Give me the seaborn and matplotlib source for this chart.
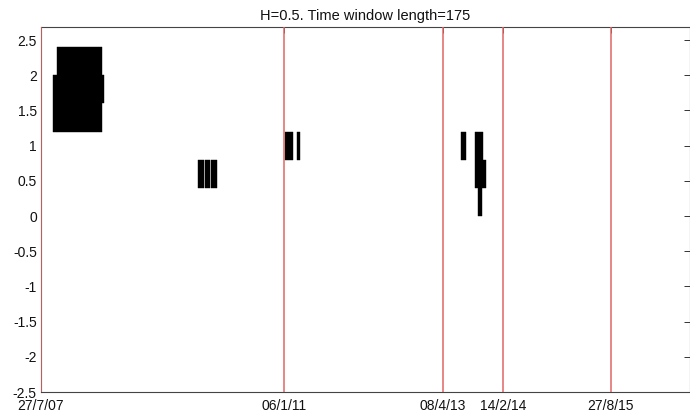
import pandas as pd
import numpy as np
import matplotlib
matplotlib.use("Agg")
import matplotlib.pyplot as plt
import seaborn as sns

# 数据: 时间以 27/7/07 起算的天数
start_date = "2007-07-27"
event_dates = ["2007-07-27", "2011-01-06", "2013-04-08", "2014-02-14", "2015-08-27"]
event_labels = ["27/7/07", "06/1/11", "08/4/13", "14/2/14", "27/8/15"]

# 黑色竖条: 起点(天), 终点(天), 下沿, 上沿
seg_start = [81, 64, 314, 815, 850, 881, 1264, 1328, 2176, 2249, 2292, 2266]
seg_end = [314, 81, 328, 844, 876, 910, 1307, 1342, 2202, 2292, 2305, 2283]
seg_low = [1.2, 1.2, 1.6, 0.4, 0.4, 0.4, 0.8, 0.8, 0.8, 0.4, 0.4, 0.0]
seg_high = [2.4, 2.0, 2.0, 0.8, 0.8, 0.8, 1.2, 1.2, 1.2, 1.2, 0.8, 0.4]

y_ticks = [-2.5, -2, -1.5, -1, -0.5, 0, 0.5, 1, 1.5, 2, 2.5]
y_tick_labels = ["-2.5", "-2", "-1.5", "-1", "-0.5", "0", "0.5", "1", "1.5", "2", "2.5"]

sns.set_style("white")
plt.rcParams['font.family'] = ['Liberation Sans', 'DejaVu Sans']
plt.rcParams['axes.unicode_minus'] = False

event_pos = [(pd.to_datetime(d) - pd.to_datetime(start_date)).days for d in event_dates]

fig = plt.figure(figsize=(6.9, 4.19), dpi=100)
ax = fig.add_axes([41 / 690, 1 - 392 / 419, 648.5 / 690, 365 / 419])

starts = np.array(seg_start)
widths = np.array(seg_end) - starts
lows = np.array(seg_low)
heights = np.array(seg_high) - lows
ax.bar(starts, heights, width=widths, bottom=lows, align='edge',
       color='black', edgecolor='black', linewidth=0.3, zorder=2)

for p in event_pos:
    ax.axvline(p, color='#e06666', linewidth=1.1, zorder=3)

ax.set_xlim(0, 648.5 * 5.181)
ax.set_ylim(-2.5, 2.685)
ax.set_xticks(event_pos)
ax.set_xticklabels(event_labels, fontsize=10)
ax.set_yticks(y_ticks)
ax.set_yticklabels(y_tick_labels, fontsize=10)
ax.tick_params(direction='in', length=4, width=0.7, color='#333333',
               top=True, right=True, labelcolor='#111111')
ax.tick_params(axis='y', pad=3)
ax.tick_params(axis='x', pad=5)

for s in ax.spines.values():
    s.set_color('#444444')
    s.set_linewidth(0.8)

ax.set_title("H=0.5. Time window length=175", fontsize=10.5, pad=5, color='#111111')

fig.savefig("out.png", dpi=100)
